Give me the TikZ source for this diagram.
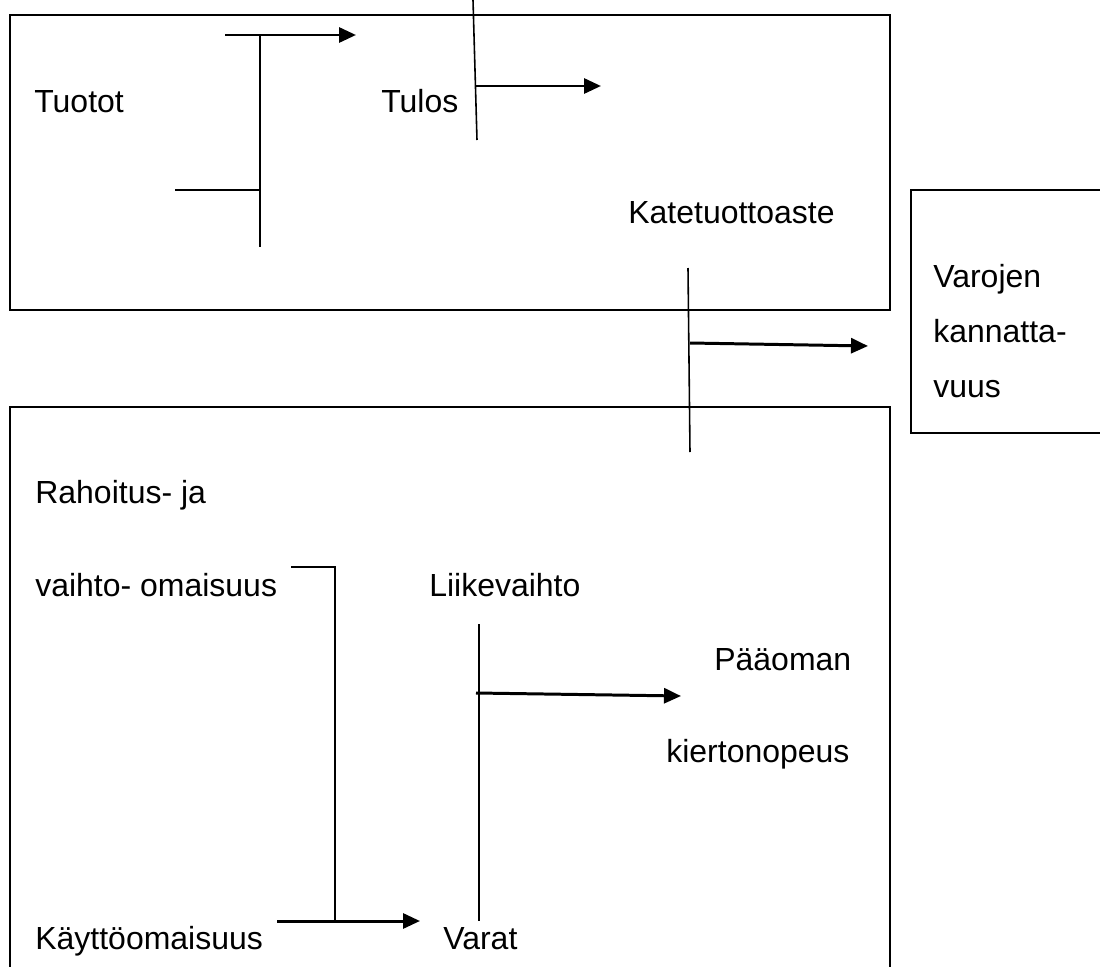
\documentclass[tikz,border=0pt]{standalone}
\usepackage{fontspec}
\setmainfont{Liberation Sans}
\usetikzlibrary{arrows.meta}
\begin{document}
\begin{tikzpicture}[x=0.02cm,y=-0.02cm,
  frame/.style={line width=1.1pt},
  conn/.style={line width=0.9pt},
  arr/.style={line width=1.7pt,-{Triangle[length=0.34cm,width=0.3cm]}},
  lbl/.style={anchor=base west,inner sep=0pt,font=\fontsize{18.2pt}{22pt}\selectfont}]
\useasboundingbox (0,0) rectangle (1100,967);

% frames
\draw[frame] (10,15) rectangle (890,310);
\draw[frame] (1100,190) -- (911,190) -- (911,433) -- (1100,433);
\draw[frame] (10,967) -- (10,407) -- (890,407) -- (890,967);

% labels
\node[lbl] (tuotot) at (34,112) {Tuotot};
\node[lbl] (tulos) at (381,112) {Tulos};
\node[lbl] (kate) at (628,223) {Katetuottoaste};
\node[lbl] (varojen1) at (933,287) {Varojen};
\node[lbl] (varojen2) at (933,342) {kannatta-};
\node[lbl] (varojen3) at (933,397) {vuus};
\node[lbl] (rahoitus) at (35,503) {Rahoitus- ja};
\node[lbl] (vaihto) at (35,596) {vaihto- omaisuus};
\node[lbl] (liike) at (429,596) {Liikevaihto};
\node[lbl] (paaoman1) at (714,670) {Pääoman};
\node[lbl] (paaoman2) at (666,762) {kiertonopeus};
\node[lbl] (kaytto) at (35,949) {Käyttöomaisuus};
\node[lbl] (varat) at (443,949) {Varat};

% connector coordinates
\coordinate (a1) at (260,35);  \coordinate (a2) at (260,247);
\coordinate (a3) at (225,35);  \coordinate (a4) at (356,35);
\coordinate (a5) at (175,190); \coordinate (a6) at (260,190);

\coordinate (b1) at (473,0);   \coordinate (b2) at (477,140);
\coordinate (b3) at (476,86);  \coordinate (b4) at (601,86);

\coordinate (c1) at (688,268); \coordinate (c2) at (690,452);
\coordinate (c3) at (690,343); \coordinate (c4) at (868,346);

\coordinate (d1) at (291,567); \coordinate (d2) at (335,567);
\coordinate (d3) at (335,921);
\coordinate (d4) at (277,921); \coordinate (d5) at (420,921);

\coordinate (e1) at (479,624); \coordinate (e2) at (479,921);
\coordinate (e3) at (476,693); \coordinate (e4) at (681,696);

% connectors
\draw[conn] (a1) -- (a2);
\draw[conn] (a5) -- (a6);
\draw[arr] (a3) -- (a4);

\draw[conn] (b1) -- (b2);
\draw[arr] (b3) -- (b4);

\draw[conn] (c1) -- (c2);
\draw[arr] (c3) -- (c4);

\draw[conn] (d1) -- (d2) -- (d3);
\draw[arr] (d4) -- (d5);

\draw[conn] (e1) -- (e2);
\draw[arr] (e3) -- (e4);
\end{tikzpicture}
\end{document}
